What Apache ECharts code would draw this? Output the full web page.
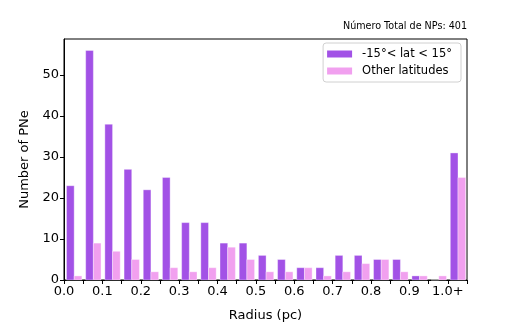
<!DOCTYPE html>
<html>
<head>
<meta charset="utf-8">
<script src="https://cdn.jsdelivr.net/npm/echarts@6/dist/echarts.min.js"></script>
<style>
  html, body { margin: 0; padding: 0; background: #fff; }
  #chart { width: 518px; height: 327px; }
</style>
</head>
<body>
<div id="chart"></div>
<script>
// bins of 0.05 pc, the last one is "1.0+"
const binStart = [0.00, 0.05, 0.10, 0.15, 0.20, 0.25, 0.30, 0.35, 0.40, 0.45, 0.50,
                  0.55, 0.60, 0.65, 0.70, 0.75, 0.80, 0.85, 0.90, 0.95, 1.00];
const lowLat = [23, 56, 38, 27, 22, 25, 14, 14, 9, 9, 6, 5, 3, 3, 6, 6, 5, 5, 1, 0, 31];
const otherLat = [1, 9, 7, 5, 2, 3, 2, 3, 8, 5, 2, 2, 3, 1, 2, 4, 5, 2, 1, 1, 25];
const xLabelValues = [0.0, 0.1, 0.2, 0.3, 0.4, 0.5, 0.6, 0.7, 0.8, 0.9, 1.0];
const xLabelText = ['0.0', '0.1', '0.2', '0.3', '0.4', '0.5', '0.6', '0.7', '0.8', '0.9', '1.0+'];
const yTicks = [0, 10, 20, 30, 40, 50];

const barW = 0.02;
const font = 'DejaVu Sans';

function barRenderer(offset) {
  return function (params, api) {
    const x0 = api.value(0) + offset;
    const p1 = api.coord([x0, api.value(1)]);
    const p0 = api.coord([x0 + barW, 0]);
    return {
      type: 'rect',
      shape: { x: p1[0], y: p1[1], width: p0[0] - p1[0], height: p0[1] - p1[1] },
      style: { fill: api.visual('color'), stroke: 'rgba(255,255,255,0.35)', lineWidth: 1 }
    };
  };
}

const chart = echarts.init(document.getElementById('chart'));
chart.setOption({
  animation: false,
  title: {
    text: 'Número Total de NPs: 401',
    right: 51, top: 21, padding: 0,
    textStyle: { fontFamily: font, fontSize: 9.6, fontWeight: 'normal', color: '#000' }
  },
  legend: {
    orient: 'vertical',
    right: 57, top: 43,
    icon: 'rect',
    itemWidth: 25, itemHeight: 7, itemGap: 3,
    padding: [4, 9, 4, 4],
    borderColor: '#d0d0d0', borderWidth: 1, borderRadius: 3,
    textStyle: { fontFamily: font, fontSize: 11.5, color: '#000', lineHeight: 14, padding: [0, 0, 0, 5] },
    data: ['-15°< lat < 15°', 'Other latitudes']
  },
  grid: {
    left: 64, right: 51, top: 39, bottom: 41,
    show: true, borderColor: '#000', borderWidth: 1
  },
  xAxis: {
    type: 'value', min: 0, max: 1.05, interval: 0.05,
    name: 'Radius (pc)', nameLocation: 'middle', nameGap: 29,
    nameTextStyle: { fontFamily: font, fontSize: 13, color: '#000' },
    axisLine: { onZero: false, lineStyle: { color: '#000' } },
    axisTick: { length: 4, lineStyle: { color: '#000' } },
    splitLine: { show: false },
    axisLabel: {
      customValues: xLabelValues,
      formatter: v => xLabelText[Math.round(v * 10)],
      fontFamily: font, fontSize: 13, color: '#000', margin: 5
    }
  },
  yAxis: {
    type: 'value', min: 0, max: 58.8,
    name: 'Number of PNe', nameLocation: 'middle', nameGap: 30,
    nameTextStyle: { fontFamily: font, fontSize: 13, color: '#000' },
    axisLine: { show: true, lineStyle: { color: '#000' } },
    axisTick: { show: true, length: 4, customValues: yTicks, lineStyle: { color: '#000' } },
    splitLine: { show: false },
    axisLabel: { customValues: yTicks, fontFamily: font, fontSize: 13, color: '#000', margin: 5 }
  },
  series: [
    {
      name: '-15°< lat < 15°', type: 'custom',
      itemStyle: { color: '#a252e6' },
      renderItem: barRenderer(0.0065),
      encode: { x: 0, y: 1 },
      data: binStart.map((b, i) => [b, lowLat[i]])
    },
    {
      name: 'Other latitudes', type: 'custom',
      itemStyle: { color: '#f1a0ef' },
      renderItem: barRenderer(0.0265),
      encode: { x: 0, y: 1 },
      data: binStart.map((b, i) => [b, otherLat[i]])
    }
  ]
});
</script>
</body>
</html>
